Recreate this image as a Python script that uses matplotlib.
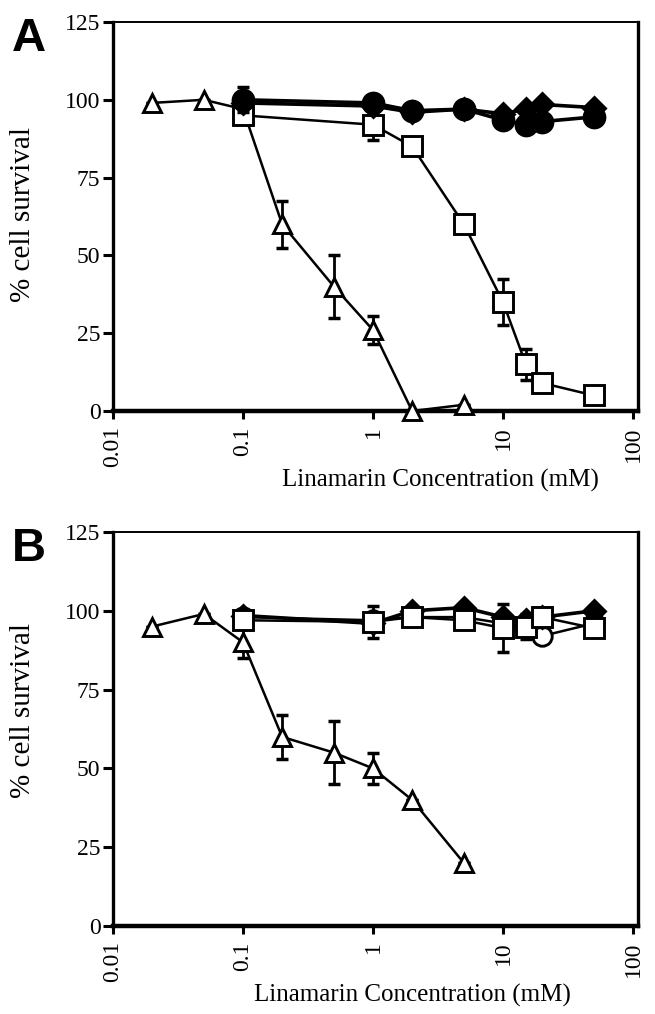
import matplotlib
matplotlib.use("Agg")
import matplotlib.pyplot as plt
import numpy as np

# ---------------- data ----------------
conc = [0.1, 1, 2, 5, 10, 15, 20, 50]
tri_conc_a = [0.02, 0.05, 0.1, 0.2, 0.5, 1, 2, 5]
tri_conc_b = [0.02, 0.05, 0.1, 0.2, 0.5, 1, 2, 5]

# Panel A
a_tri = [99, 100, 97, 60, 40, 26, 0, 2]
a_tri_err = [0, 0, 0, 7.5, 10, 4.5, 0, 0]
a_sq = [95, 92, 85, 60, 35, 15, 9, 5]
a_sq_err = [0, 5, 0, 0, 7.5, 5, 0, 0]
a_dia = [99, 98, 96, 97, 95.5, 97, 98.5, 97.5]
a_circ = [100, 99, 96.5, 97, 93.5, 92, 93, 94.5]
a_circ_err = [4, 0, 0, 0, 0, 0, 0, 0]

# Panel B
b_tri = [95, 99, 90, 60, 55, 50, 40, 20]
b_tri_err = [0, 0, 5, 7, 10, 5, 0, 0]
b_sq = [97, 96.5, 98, 97, 94.5, 95, 98, 94.5]
b_sq_err = [0, 5, 0, 0, 7.5, 4, 3, 0]
b_dia = [98.5, 96, 100, 101, 98, 97, 98, 100]
b_ocirc = [98, 97, 98, 98, 96, 95, 92, 96]

yticks = [0, 25, 50, 75, 100, 125]
xticks = [0.01, 0.1, 1, 10, 100]
xticklabels = ["0.01", "0.1", "1", "10", "100"]

W, H = 655, 1014
fig = plt.figure(figsize=(W / 100, H / 100), dpi=100)

serif = ["Liberation Serif", "DejaVu Serif"]
L, R100, RSP = 113, 633, 638      # x pixel of 0.01 tick, 100 tick, right spine
DEC = (R100 - L) / 4.0


def px_axes(t, b):
    return fig.add_axes([L / W, 1 - b / H, (RSP - L) / W, (b - t) / H])


def style(ax):
    ax.set_xscale("log")
    ax.set_xlim(0.01, 100 * 10 ** ((RSP - R100) / DEC))
    ax.set_ylim(0, 125)
    ax.set_yticks(yticks)
    ax.set_yticklabels([str(v) for v in yticks], fontsize=17, family=serif)
    ax.set_xticks(xticks)
    ax.set_xticklabels(xticklabels, fontsize=17, family=serif, rotation=90)
    ax.minorticks_off()
    ax.tick_params(axis="y", direction="out", length=7, width=2.2, pad=2)
    ax.tick_params(axis="x", direction="out", length=6, width=2.2, pad=5)
    ax.spines["left"].set_linewidth(2.4)
    ax.spines["bottom"].set_linewidth(3.2)
    ax.spines["right"].set_linewidth(2.4)
    ax.spines["top"].set_linewidth(1.4)
    for s in ax.spines.values():
        s.set_color("black")


def series(ax, x, y, marker, face, ms, lw, z, err=None):
    if err is not None:
        ax.errorbar(x, y, yerr=err, fmt="none", ecolor="black", elinewidth=2,
                    capsize=4, capthick=2.5, zorder=z - 0.5)
    ax.plot(x, y, color="black", lw=lw, marker=marker, ms=ms,
            mfc=face, mec="black", mew=2.1, zorder=z, clip_on=False)


def labels(ax, top, bottom, xlab_x, xlab_y, ylab_y):
    h = bottom - top
    w = RSP - L
    ax.set_xlabel("Linamarin Concentration (mM)", fontsize=18, family=serif,
                  va="center")
    ax.xaxis.set_label_coords((xlab_x - L) / w, (bottom - xlab_y) / h)
    ax.set_ylabel("% cell survival", fontsize=21, family=serif, va="center")
    ax.yaxis.set_label_coords((23 - L) / w, (bottom - ylab_y) / h)


# ---------------- Panel A ----------------
axA = px_axes(22, 411)
style(axA)
series(axA, tri_conc_a, a_tri, "^", "white", 13, 1.8, 3, a_tri_err)
series(axA, conc, a_sq, "s", "white", 14, 1.8, 4, a_sq_err)
series(axA, conc, a_dia, "D", "black", 11, 2.6, 5)
series(axA, conc, a_circ, "o", "black", 15, 2.6, 6, a_circ_err)
labels(axA, 22, 411, 440, 480, 215)
fig.text(12 / W, 1 - 51 / H, "A", fontsize=34, fontweight="bold",
         family=["Liberation Sans", "DejaVu Sans"])

# ---------------- Panel B ----------------
axB = px_axes(532, 926)
style(axB)
series(axB, tri_conc_b, b_tri, "^", "white", 13, 1.8, 3, b_tri_err)
series(axB, conc, b_ocirc, "o", "white", 14, 1.8, 4)
series(axB, conc, b_dia, "D", "black", 11, 2.6, 5)
series(axB, conc, b_sq, "s", "white", 14, 1.8, 6, b_sq_err)
labels(axB, 532, 926, 412, 995, 710)
fig.text(12 / W, 1 - 561 / H, "B", fontsize=34, fontweight="bold",
         family=["Liberation Sans", "DejaVu Sans"])

fig.savefig("out.png", dpi=100)
